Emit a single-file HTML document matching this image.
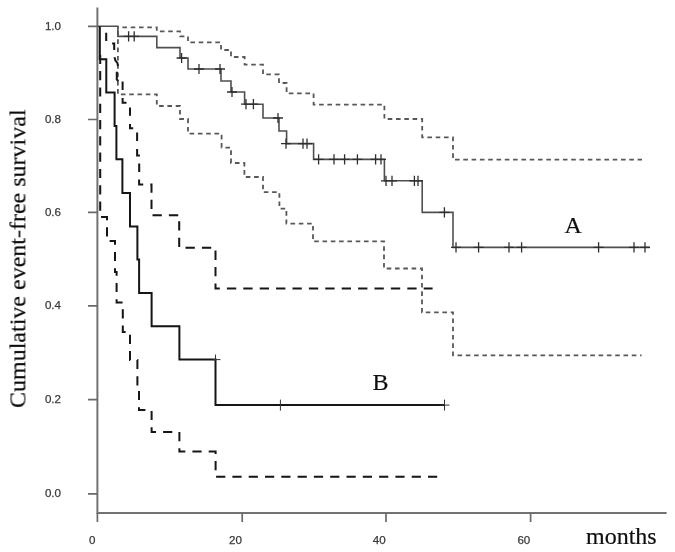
<!DOCTYPE html>
<html lang="en">
<head>
<meta charset="utf-8">
<title>Cumulative event-free survival</title>
<style>
html,body{margin:0;padding:0;background:#fff;}
body{width:675px;height:552px;overflow:hidden;}
svg{display:block;}
.tk{font-family:"Liberation Sans",Arial,sans-serif;font-size:11.6px;fill:#3a3a3a;stroke:#3a3a3a;stroke-width:.25px;}
.lb{font-family:"Liberation Serif","Times New Roman",serif;font-size:24px;fill:#111;stroke:#111;stroke-width:.2px;}
</style>
</head>
<body>
<svg width="675" height="552" viewBox="0 0 675 552">
<defs><filter id="soft" x="0" y="0" width="675" height="552" filterUnits="userSpaceOnUse"><feGaussianBlur stdDeviation="0.45"/></filter></defs>
<rect width="675" height="552" fill="#ffffff"/>
<g filter="url(#soft)">
<g fill="none" stroke-linejoin="miter">
<path d="M97.4 7.6V514M96.4 513.1H666.6" stroke="#727272" stroke-width="2"/>
<path d="M88 26.3H97.4M88 119.5H97.4M88 212.4H97.4M88 305.9H97.4M88 399.6H97.4M88 493.8H97.4M97.4 513V522M242.2 513V522M386 513V522M530.6 513V522" stroke="#6a6a6a" stroke-width="1.7"/>
<path d="M117.9 27.4H156.8V31.4H180V36.4H188V42.4H221V50H231V57H244.6V64.6H263V74.4H279V83H286.6V93.4H313.6V104.6H384.4V119H422.2V137.4H453V159.6H642" stroke="#585858" stroke-width="1.8" stroke-dasharray="4.6 3.7" stroke-dashoffset="3.8"/>
<path d="M117.9 28V94.4H156.8V106H180V119H188V133.6H221.6V147.6H231V163H244.4V177H263V192.2H279.4V208.6H286.4V223.6H313V241.4H384V268.5H422V312.4H453V355.4H641.6" stroke="#585858" stroke-width="1.8" stroke-dasharray="4.6 3.7" stroke-dashoffset="5.3"/>
<path d="M97.6 26.2H117.9V36.4H156.8V47.6H180V58H188V69H221V81H231V92H244.6V104.2H263V118H279V131H286.6V143.6H313.6V159.4H384.4V180.8H422.2V212.4H453V247.4H650" stroke="#505050" stroke-width="1.6"/>
<path d="M128.6 31.3v10.2M134.2 31.3v10.2M181.6 52.9v10.2M199 63.9v10.2M220 63.9v10.2M232 86.9v10.2M246 99.1v10.2M253.4 99.1v10.2M278 112.9v10.2M286 138.5v10.2M303 138.5v10.2M307 138.5v10.2M318.6 154.3v10.2M334 154.3v10.2M344.6 154.3v10.2M357.4 154.3v10.2M375.6 154.3v10.2M381 154.3v10.2M386 175.7v10.2M392 175.7v10.2M414.4 175.7v10.2M418 175.7v10.2M444.4 207.3v10.2M456 242.3v10.2M478.6 242.3v10.2M509 242.3v10.2M521.6 242.3v10.2M598.6 242.3v10.2M634 242.3v10.2M645 242.3v10.2M123.6 36.4h10M129.2 36.4h10M176.6 58h10M194 69h10M215 69h10M227 92h10M241 104.2h10M248.4 104.2h10M273 118h10M281 143.6h10M298 143.6h10M302 143.6h10M313.6 159.4h10M329 159.4h10M339.6 159.4h10M352.4 159.4h10M370.6 159.4h10M376 159.4h10M381 180.8h10M387 180.8h10M409.4 180.8h10M413 180.8h10M439.4 212.4h10M451 247.4h10M473.6 247.4h10M504 247.4h10M516.6 247.4h10M593.6 247.4h10M629 247.4h10M640 247.4h10" stroke="#2e2e2e" stroke-width="1.3"/>
<path d="M139.1 179.4V184.6H151.5V215.2H179.2V247.8H215.5V288.4H432.6" stroke="#151515" stroke-width="2" stroke-dasharray="9.3 7.1"/>
<path d="M106.2 32.8V41M112.1 43.5H114.2V49.9M114.5 57.2L115.4 60.5L117.4 63L118 66M116.8 71.7V79.6L118.4 81M122.6 81.6V89.9M122.6 98V102.8H126.5M130 107.5V115.8M130 124V128.2H133.2M137.1 132.5V141M137.1 149V155.5H139.9M139.2 163.4V172" stroke="#151515" stroke-width="2"/>
<path d="M100.2 54.8V217H107V241H115V272H116.6V302.4H122.8V332H130V360H137.4V388H139V410H151.6V432H179.4V451.6H215.6V476.8H440" stroke="#151515" stroke-width="2" stroke-dasharray="9.2 7.1"/>
<path d="M99.8 26.2V59.2H106.3V92.4H114.6V126H116.4V159.2H122.4V193H130V226.6H137.4V259.4H139.1V293H151.6V326.2H179.4V359.6H215.5V405.1H444.5" stroke="#151515" stroke-width="2"/>
<path d="M280.4 399.6v11M444.5 399.6v11M439.5 405.1h10M215.5 354.6v6M212.5 359.6h8" stroke="#333" stroke-width="1"/>
</g>
<g class="tk"><text x="61" y="29.7" text-anchor="end">1.0</text><text x="61" y="122.9" text-anchor="end">0.8</text><text x="61" y="215.8" text-anchor="end">0.6</text><text x="61" y="309.29999999999995" text-anchor="end">0.4</text><text x="61" y="403.0" text-anchor="end">0.2</text><text x="61" y="497.2" text-anchor="end">0.0</text><text x="95.4" y="544.4" text-anchor="end">0</text><text x="241.89999999999998" y="544.4" text-anchor="end">20</text><text x="385.7" y="544.4" text-anchor="end">40</text><text x="530.3000000000001" y="544.4" text-anchor="end">60</text></g>
<g class="lb">
<text x="586" y="543.6">months</text>
<text x="564.6" y="233.2">A</text>
<text x="372.6" y="390">B</text>
<text transform="translate(25.4 408) rotate(-90)">Cumulative event-free survival</text>
</g>
</g>
</svg>
</body>
</html>
